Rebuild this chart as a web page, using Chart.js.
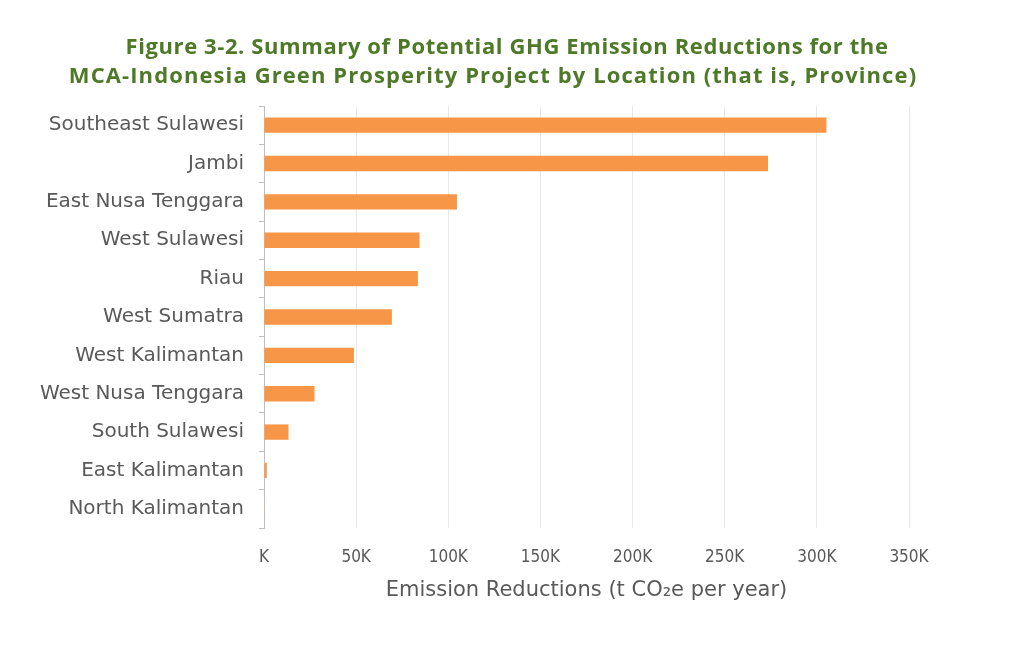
<!DOCTYPE html>
<html>
<head>
<meta charset="utf-8">
<script src="https://cdn.jsdelivr.net/npm/chart.js@4.4.1/dist/chart.umd.min.js"></script>
<style>
  html, body { margin: 0; padding: 0; background: #fff; }
  .chart__canvas-wrapper { width: 1024px; height: 655px; }
</style>
</head>
<body>
<div class="chart__canvas-wrapper">
  <canvas id="chart-ghg"></canvas>
</div>
<script>
const fontFamily = "'DejaVu Sans', sans-serif";
const narrowFamily = "'DejaVu Sans Condensed', 'DejaVu Sans', sans-serif";

const provinces = [
  'Southeast Sulawesi', 'Jambi', 'East Nusa Tenggara', 'West Sulawesi', 'Riau',
  'West Sumatra', 'West Kalimantan', 'West Nusa Tenggara', 'South Sulawesi',
  'East Kalimantan', 'North Kalimantan'
];
const reductions = [305200, 273500, 104700, 84400, 83500, 69400, 48800, 27400, 13300, 1500, 200];
const titleLines = [
  'Figure 3-2. Summary of Potential GHG Emission Reductions for the',
  'MCA-Indonesia Green Prosperity Project by Location (that is, Province)'
];
const xAxisTitle = 'Emission Reductions (t CO\u2082e per year)';

Chart.defaults.color = '#595959';

// two-line figure caption, drawn above the plot
const figureTitle = {
  id: 'figureTitle',
  afterDraw(chart) {
    const ctx = chart.ctx;
    ctx.save();
    ctx.fillStyle = '#4e7a27';
    ctx.font = "bold 22px 'Open Sans', sans-serif";
    ctx.textAlign = 'center';
    ctx.textBaseline = 'middle';
    ctx.letterSpacing = '0.6px';
    ctx.fillText(titleLines[0], 507, 48);
    ctx.letterSpacing = '1.1px';
    ctx.fillText(titleLines[1], 493, 77);
    ctx.restore();
  }
};

const config = {
  type: 'bar',
  data: {
    labels: provinces,
    datasets: [{
      data: reductions,
      backgroundColor: '#f79646',
      barPercentage: 0.4,
      categoryPercentage: 1
    }]
  },
  options: {
    indexAxis: 'y',
    responsive: true,
    maintainAspectRatio: false,
    animation: false,
    layout: { padding: { top: 106, right: 115, bottom: 50, left: 0 } },
    plugins: {
      legend: { display: false },
      tooltip: { enabled: false },
      title: { display: false }
    },
    scales: {
      x: {
        min: 0,
        max: 350000,
        afterFit: scale => { scale.height = 77; },
        ticks: {
          stepSize: 50000,
          padding: 19,
          font: { family: narrowFamily, size: 17 },
          callback: v => (v === 0 ? '' : v / 1000) + 'K'
        },
        grid: { color: '#e8e8e8', drawTicks: false },
        border: { display: false },
        title: {
          display: true,
          text: xAxisTitle,
          font: { family: fontFamily, size: 21 },
          padding: { top: 10, bottom: 2 }
        }
      },
      y: {
        afterFit: scale => { scale.width = 264; },
        ticks: {
          padding: 15,
          font: { family: fontFamily, size: 20 },
          color: '#595959'
        },
        grid: { drawOnChartArea: false, tickLength: 5, color: '#bfbfbf', offset: true },
        border: { display: true, color: '#bfbfbf' }
      }
    }
  },
  plugins: [figureTitle]
};

new Chart(document.getElementById('chart-ghg'), config);
</script>
</body>
</html>
